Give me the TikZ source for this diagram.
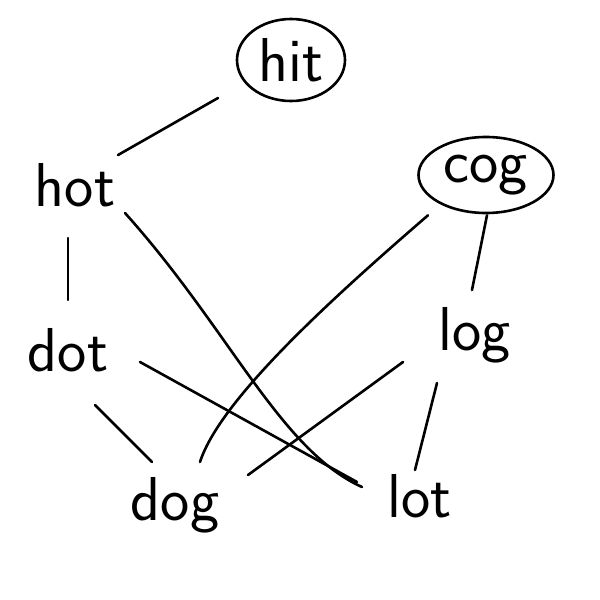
\documentclass[tikz,border=0pt]{standalone}
\usetikzlibrary{calc,shapes.geometric}
\begin{document}
\begin{tikzpicture}[x=1pt,y=-1pt,
  lbl/.style={font=\sffamily\fontsize{62}{64}\selectfont, inner sep=0pt},
  circled/.style={lbl, draw, ellipse, line width=2.6pt},
  edge/.style={line width=2.6pt, line cap=round}]
\useasboundingbox (0,0) rectangle (600,600);
\node[circled, minimum width=108pt, minimum height=82pt] (hit) at (291,60) {hit};
\node[circled, minimum width=135pt, minimum height=76pt] (cog) at (486,175) {cog};
\node[lbl] (hot) at (75,185) {hot};
\node[lbl] (dot) at (68,350) {dot};
\node[lbl] (log) at (475,335) {log};
\node[lbl] (dog) at (175,505) {dog};
\node[lbl] (lot) at (420,496) {lot};
\draw[edge] ($(hit)+(-73,38)$) -- ($(hot)+(43,-30)$);
\draw[edge] ($(hot)+(-7,53)$) -- ($(dot)+(0,-50)$);
\draw[edge] ($(hot)+(50,28)$) .. controls (230,330) and (280,450) .. ($(lot)+(-58,-9)$);
\draw[edge] ($(dot)+(27,55)$) -- ($(dog)+(-23,-43)$);
\draw[edge] ($(dot)+(72,12)$) -- ($(lot)+(-63,-14)$);
\draw[edge] ($(cog.south)+(-58,1)$) .. controls (330,300) and (220,400) .. ($(dog)+(25,-43)$);
\draw[edge] ($(cog.south)+(1,1)$) -- ($(log)+(-3,-45)$);
\draw[edge] ($(log)+(-72,27)$) -- ($(dog)+(73,-30)$);
\draw[edge] ($(log)+(-38,48)$) -- ($(lot)+(-5,-26)$);
\end{tikzpicture}
\end{document}
